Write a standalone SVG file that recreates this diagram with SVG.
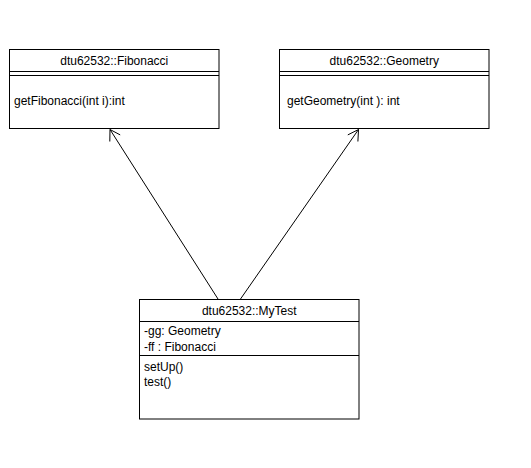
<svg xmlns="http://www.w3.org/2000/svg" width="531" height="468" viewBox="0 0 531 468">
<style>
.box{fill:#fff;stroke:#000;stroke-width:1}
.ln{stroke:#000;stroke-width:1;fill:none}
text{font-family:"Liberation Sans",Arial,sans-serif;font-size:12px;fill:#000}
.c{text-anchor:middle}
</style>
<rect width="531" height="468" fill="#fff"/>
<g id="connectors">
<path class="ln" d="M218,299 L110,129.5"/>
<path class="ln" d="M110,129.5 L109.8,141.5 M110,129.5 L120.2,134.9"/>
<path class="ln" d="M240.5,299 L358.5,129.5"/>
<path class="ln" d="M358.5,129.5 L347.8,134.9 M358.5,129.5 L357.9,141.5"/>
</g>
<g id="fibonacci">
<rect class="box" x="9.5" y="49.5" width="209.5" height="79"/>
<path class="ln" d="M9.5,71.5 H219 M9.5,75.5 H219"/>
<text class="c" x="114.25" y="65">dtu62532::Fibonacci</text>
<text x="14" y="105">getFibonacci(int i):int</text>
</g>
<g id="geometry">
<rect class="box" x="279.5" y="49.5" width="209.5" height="79"/>
<path class="ln" d="M279.5,71.5 H489 M279.5,75.5 H489"/>
<text class="c" x="384.25" y="65">dtu62532::Geometry</text>
<text x="287" y="105">getGeometry(int ): int</text>
</g>
<g id="mytest">
<rect class="box" x="139.5" y="299.5" width="219.5" height="119.5"/>
<path class="ln" d="M139.5,321.5 H359 M139.5,355.5 H359"/>
<text class="c" x="249.25" y="315">dtu62532::MyTest</text>
<text x="144" y="335">-gg: Geometry</text>
<text x="144" y="350.5">-ff : Fibonacci</text>
<text x="144" y="370.5">setUp()</text>
<text x="144" y="386">test()</text>
</g>
</svg>
